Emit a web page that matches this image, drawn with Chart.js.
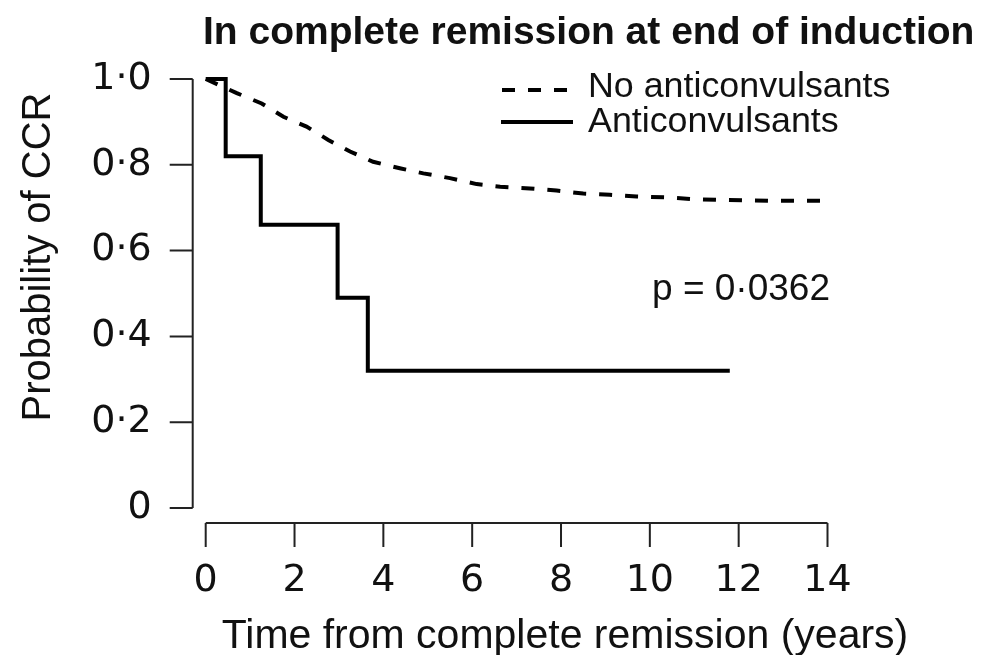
<!DOCTYPE html>
<html>
<head>
<meta charset="utf-8">
<title>In complete remission at end of induction</title>
<script src="https://cdn.jsdelivr.net/npm/chart.js@4.4.1/dist/chart.umd.min.js"></script>
<style>
  html, body { margin: 0; padding: 0; background: #fff; }
  #wrap { width: 982px; height: 655px; position: relative; }
</style>
</head>
<body>
<div id="wrap"><canvas id="kmChart"></canvas></div>
<script>
// Kaplan-Meier estimates (time in years)
const noAcTimes = [0, 0.7, 1.26, 1.75, 2.27, 2.76, 3.25, 3.77, 4.37, 4.9, 5.5, 6.1, 6.63, 7.3, 7.9, 8.5, 9.1, 9.7, 10.38, 10.98, 11.58, 12.18, 12.78, 13.9];
const noAcSurvival = [1.0, 0.967, 0.943, 0.912, 0.889, 0.858, 0.831, 0.807, 0.792, 0.78, 0.769, 0.755, 0.749, 0.745, 0.74, 0.733, 0.73, 0.726, 0.724, 0.72, 0.718, 0.717, 0.716, 0.716];

const acTimes = [0, 0.45, 1.24, 2.97, 3.65, 11.8];
const acSurvival = [1.0, 0.82, 0.66, 0.49, 0.32, 0.32];

const xTicks = [0, 2, 4, 6, 8, 10, 12, 14];
const xTickLabels = ['0', '2', '4', '6', '8', '10', '12', '14'];
const yTicks = [0, 0.2, 0.4, 0.6, 0.8, 1.0];
const yTickLabels = ['0', '0·2', '0·4', '0·6', '0·8', '1·0'];

const seriesNames = ['No anticonvulsants', 'Anticonvulsants'];
const titleText = 'In complete remission at end of induction';
const xTitle = 'Time from complete remission (years)';
const yTitle = 'Probability of CCR';
const pValueText = 'p = 0·0362';

const INK = '#111';
const AXIS = '#222';

const toPoints = (xs, ys) => xs.map((t, i) => ({ x: t, y: ys[i] }));

// axis lines sit a little away from the plot, like base R plots
const decorations = {
  id: 'decorations',
  afterDraw(chart) {
    const { ctx } = chart;
    const xs = chart.scales.x, ys = chart.scales.y;
    const left = xs.getPixelForValue(xTicks[0]);
    const right = xs.getPixelForValue(xTicks[xTicks.length - 1]);
    const top = ys.getPixelForValue(yTicks[yTicks.length - 1]);
    const bottom = ys.getPixelForValue(yTicks[0]);
    const yAxisX = left - 13;
    const xAxisY = bottom + 15;

    ctx.save();
    ctx.strokeStyle = AXIS;
    ctx.lineWidth = 2;
    ctx.setLineDash([]);
    ctx.beginPath();
    ctx.moveTo(yAxisX, top);
    ctx.lineTo(yAxisX, bottom);
    yTicks.forEach(v => {
      const py = ys.getPixelForValue(v);
      ctx.moveTo(yAxisX - 23, py);
      ctx.lineTo(yAxisX, py);
    });
    ctx.moveTo(left, xAxisY);
    ctx.lineTo(right, xAxisY);
    xTicks.forEach(v => {
      const px = xs.getPixelForValue(v);
      ctx.moveTo(px, xAxisY);
      ctx.lineTo(px, xAxisY + 24);
    });
    ctx.stroke();

    ctx.fillStyle = INK;
    ctx.textBaseline = 'alphabetic';

    ctx.font = 'bold 39px "Liberation Sans", Arial, sans-serif';
    ctx.textAlign = 'left';
    ctx.fillText(titleText, 203, 44);

    ctx.font = '41px "Liberation Sans", Arial, sans-serif';
    ctx.textAlign = 'center';
    ctx.fillText(xTitle, 565, 648);

    ctx.save();
    ctx.translate(50, 257);
    ctx.rotate(-Math.PI / 2);
    ctx.font = '40px "Liberation Sans", Arial, sans-serif';
    ctx.fillText(yTitle, 0, 0);
    ctx.restore();

    // legend
    ctx.lineWidth = 4;
    ctx.strokeStyle = '#000';
    ctx.setLineDash([13, 13]);
    ctx.beginPath();
    ctx.moveTo(502, 90);
    ctx.lineTo(568, 90);
    ctx.stroke();
    ctx.setLineDash([]);
    ctx.beginPath();
    ctx.moveTo(501, 122);
    ctx.lineTo(573, 122);
    ctx.stroke();

    ctx.font = '35.8px "Liberation Sans", Arial, sans-serif';
    ctx.textAlign = 'left';
    ctx.fillText(seriesNames[0], 588, 97);
    ctx.fillText(seriesNames[1], 588, 132);

    ctx.font = '37px "Liberation Sans", Arial, sans-serif';
    ctx.textAlign = 'right';
    ctx.fillText(pValueText, 830, 300);
    ctx.restore();
  }
};

new Chart(document.getElementById('kmChart'), {
  type: 'line',
  data: {
    datasets: [
      {
        label: seriesNames[0],
        data: toPoints(noAcTimes, noAcSurvival),
        borderColor: '#000',
        borderWidth: 4,
        borderDash: [13, 13],
        pointRadius: 0,
        fill: false,
        tension: 0,
        clip: false
      },
      {
        label: seriesNames[1],
        data: toPoints(acTimes, acSurvival),
        borderColor: '#000',
        borderWidth: 4,
        stepped: 'before',
        pointRadius: 0,
        fill: false,
        clip: false,
        borderJoinStyle: 'miter'
      }
    ]
  },
  options: {
    responsive: true,
    maintainAspectRatio: false,
    animation: false,
    devicePixelRatio: 1,
    layout: { padding: { top: 79, right: 154.5, bottom: 0, left: 0 } },
    plugins: {
      legend: { display: false },
      title: { display: false },
      tooltip: { enabled: false }
    },
    scales: {
      x: {
        type: 'linear',
        min: 0,
        max: 14,
        afterBuildTicks: s => { s.ticks = xTicks.map(v => ({ value: v })); },
        afterFit: s => { s.height = 147; },
        grid: { display: false, drawTicks: false },
        border: { display: false },
        ticks: {
          padding: 50,
          color: INK,
          font: { family: '"DejaVu Sans", sans-serif', size: 38 },
          callback: (v, i) => xTickLabels[i]
        }
      },
      y: {
        type: 'linear',
        min: 0,
        max: 1,
        afterBuildTicks: s => { s.ticks = yTicks.map(v => ({ value: v })); },
        afterFit: s => { s.width = 205.7; },
        grid: { display: false, drawTicks: false },
        border: { display: false },
        ticks: {
          padding: 54,
          color: INK,
          font: { family: '"DejaVu Sans", sans-serif', size: 38 },
          callback: (v, i) => yTickLabels[i]
        }
      }
    }
  },
  plugins: [decorations]
});
</script>
</body>
</html>
